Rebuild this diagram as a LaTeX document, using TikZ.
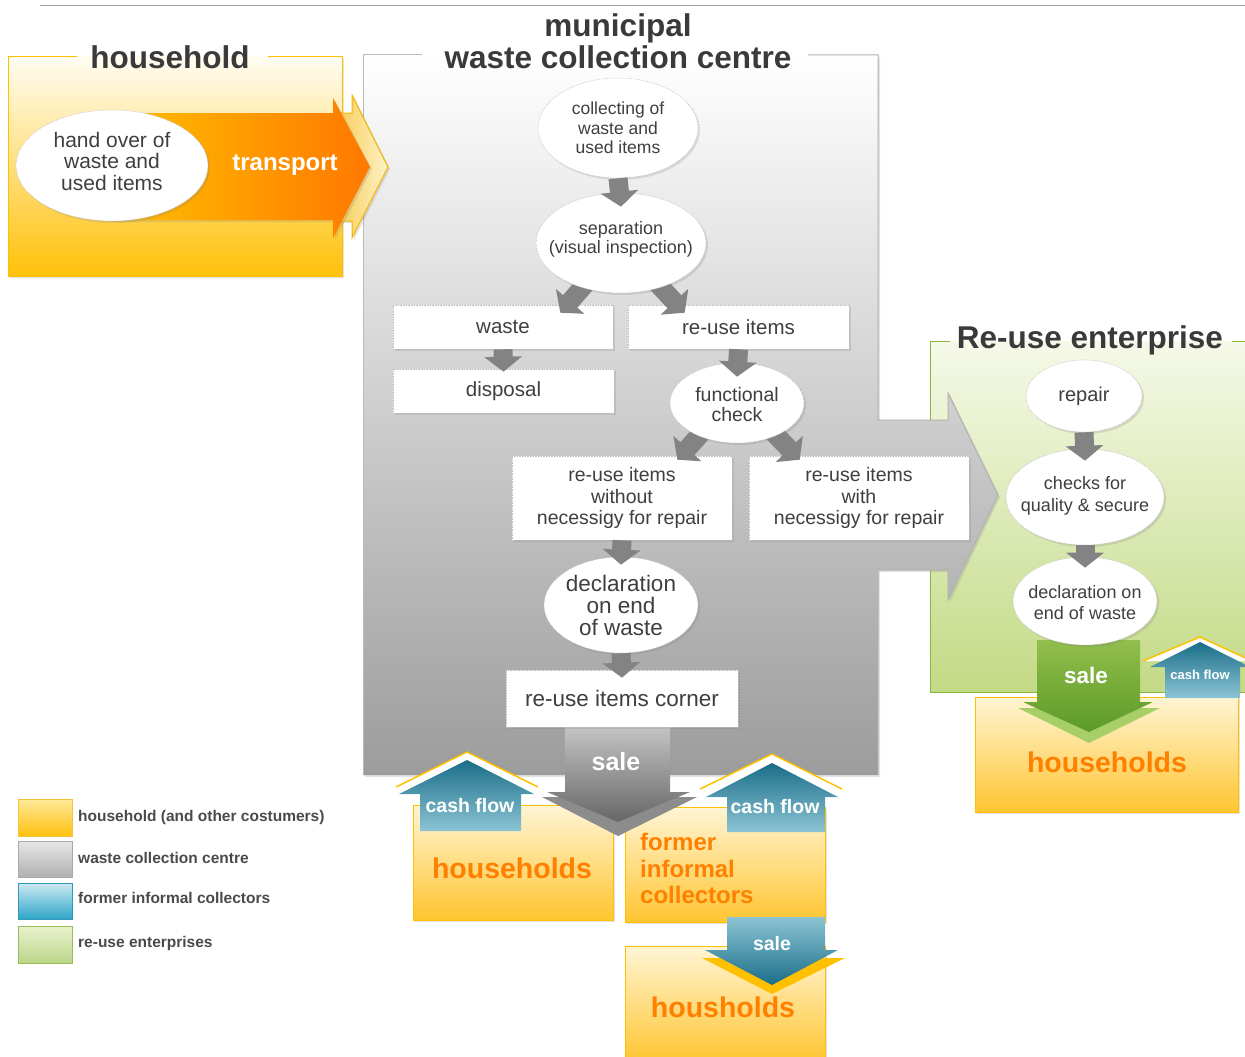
\documentclass[tikz,border=0pt]{standalone}
\usepackage{fontspec}
\setmainfont{Liberation Sans}
\usetikzlibrary{shapes.geometric,arrows.meta,shadows,calc}
\definecolor{ttl}{HTML}{3A3A3A}
\definecolor{txt}{HTML}{3F3F3F}
\definecolor{legtxt}{HTML}{4A4A4A}
\definecolor{yelB}{HTML}{FFC000}
\definecolor{yT}{HTML}{FFFDF2}
\definecolor{yM}{HTML}{FFE07A}
\definecolor{yD}{HTML}{FFC10A}
\definecolor{orgA}{HTML}{FF7800}
\definecolor{orgM}{HTML}{FFA800}
\definecolor{orgT}{HTML}{FF8000}
\definecolor{chevL}{HTML}{F6CF5C}
\definecolor{chevR}{HTML}{FFF2C8}
\definecolor{chevB}{HTML}{F2B600}
\definecolor{grT}{HTML}{F5F9E8}
\definecolor{grD}{HTML}{C3DA85}
\definecolor{grnB}{HTML}{8DB53C}
\definecolor{mcL}{HTML}{9C9C9C}
\definecolor{lyT}{HTML}{FFF5D5}
\definecolor{lyD}{HTML}{FFC530}
\definecolor{bluD}{HTML}{1A6E89}
\definecolor{bluL}{HTML}{8CC4D4}
\definecolor{saleT}{HTML}{C4C4C4}
\definecolor{saleD}{HTML}{666666}
\definecolor{saleB}{HTML}{8C8C8C}
\definecolor{gsT}{HTML}{92BE4C}
\definecolor{gsD}{HTML}{5C9A28}
\definecolor{gsB}{HTML}{A8CF67}
\definecolor{arrG}{HTML}{838383}
\definecolor{lgyT}{HTML}{FFE89A}
\definecolor{lgyD}{HTML}{FFC20E}
\definecolor{lgyB}{HTML}{F7C23A}
\definecolor{lggT}{HTML}{E6E6E6}
\definecolor{lggD}{HTML}{B0B0B0}
\definecolor{lggB}{HTML}{A8A8A8}
\definecolor{lgbT}{HTML}{CDEAF3}
\definecolor{lgbD}{HTML}{2DA5C8}
\definecolor{lgbB}{HTML}{3499B8}
\definecolor{lgnT}{HTML}{E9F2CF}
\definecolor{lgnD}{HTML}{BCD58A}
\definecolor{lgnB}{HTML}{98BE55}
\newcommand{\fsz}[2]{\fontsize{#1}{#2}\selectfont}
\pgfdeclarelayer{bg}
\pgfdeclarelayer{boxl}
\pgfdeclarelayer{midl}
\pgfdeclarelayer{topl}
\pgfsetlayers{bg,boxl,midl,main,topl}
\begin{document}
\begin{tikzpicture}[x=1pt,y=-1pt,
  shd/.style={drop shadow={shadow xshift=2pt,shadow yshift=-2pt,opacity=0.22}},
  ell/.style={ellipse,draw=gray!55,densely dotted,line width=0.6pt,fill=white,inner sep=0pt,shd},
  etext/.style={align=center,text=txt,inner sep=0pt},
  boxn/.style={rectangle,draw=gray!50,densely dotted,line width=0.6pt,fill=white,inner sep=0pt,align=center,text=txt,shd},
  garrow/.style={draw=arrG,line width=19pt,-{Triangle[length=15pt,width=37pt]}},
  ttlst/.style={text=ttl,font=\bfseries\fsz{31.5}{32},align=center,inner sep=0pt},
  wlab/.style={text=white,inner sep=0pt},
  olab/.style={text=orgT,font=\bfseries\fsz{28.5}{30},inner sep=0pt},
  legt/.style={text=legtxt,font=\bfseries\fsz{15.5}{17},anchor=west,inner sep=0pt},
  ybox/.style={top color=lyT,bottom color=lyD,draw=yelB,line width=1pt,shd},
  cashline/.style={draw=yelB,line width=1.5pt},
]
\useasboundingbox (0,0) rectangle (1245,1057);

\begin{pgfonlayer}{bg}
% top rule
\draw[gray!70,line width=1pt] (40,6) -- (1245,6);
% re-use enterprise region
\path[top color=grT,bottom color=grD] (930,341) rectangle (1250,692);
\draw[grnB,line width=1pt] (950,341) -- (930,341) -- (930,692) -- (1250,692);
\draw[grnB,line width=1pt] (1232,341) -- (1250,341);
% municipal region with big arrow
\path[top color=white,bottom color=mcL,shd] (363,55) -- (878,55) -- (878,420) -- (948,420) -- (948,393) -- (998,495) -- (948,600) -- (948,570) -- (878,570) -- (878,775) -- (363,775) -- cycle;
\draw[gray!55,line width=1pt] (422,55) -- (363,55) -- (363,775);
\draw[gray!60,line width=1pt] (808,55) -- (878,55) -- (878,420) -- (948,420) -- (948,393) -- (998,495) -- (948,600) -- (948,570) -- (878,570) -- (878,775);
% household region
\path[top color=yT,middle color=yM,bottom color=yD,shd] (8,57) rectangle (342,276);
\draw[yelB,line width=1pt] (77,57) -- (8,57) -- (8,276) -- (342,276) -- (342,57) -- (268,57);
% transport arrow with chevron behind
\path[left color=chevL,right color=chevR,draw=chevB,line width=1pt,shd] (340,113) -- (352,113) -- (352,95) -- (388,167) -- (352,238) -- (352,221) -- (340,221) -- cycle;
\path[left color=yelB,middle color=orgM,right color=orgA,shd] (112,113) -- (333,113) -- (333,98) -- (370,167) -- (333,238) -- (333,220) -- (112,220) -- cycle;
% lower customer boxes
\path[ybox] (413,805) rectangle (613,920);
\path[ybox] (625,807) rectangle (825,922);
\path[ybox] (625,946) rectangle (825,1062);
\path[ybox] (975,697) rectangle (1238,812);
% cash flow 1
\path[fill=white] (396,787) -- (467,752) -- (538,787) -- cycle;
\draw[cashline] (396,787) -- (467,752) -- (538,787);
\path[top color=bluD,bottom color=bluL] (420,831) -- (420,794) -- (399,794) -- (467,760) -- (534,794) -- (521,794) -- (521,831) -- cycle;
% cash flow 2
\path[fill=white] (700,789) -- (772,754) -- (842,789) -- cycle;
\draw[cashline] (700,789) -- (772,754) -- (842,789);
\path[top color=bluD,bottom color=bluL] (727,832) -- (727,797) -- (706,797) -- (772,763) -- (838,797) -- (825,797) -- (825,832) -- cycle;
% gray sale arrow
\fill[saleB] (542,797) -- (697,797) -- (618,836) -- cycle;
\path[top color=saleT,bottom color=saleD] (565,727) -- (670,727) -- (670,792) -- (690,792) -- (618,822) -- (547,792) -- (565,792) -- cycle;
% blue sale arrow
\fill[yelB] (702,958) -- (845,958) -- (772,994) -- cycle;
\path[top color=bluL,bottom color=bluD] (727,917) -- (825,917) -- (825,950) -- (838,950) -- (772,985) -- (705,950) -- (727,950) -- cycle;
% green sale arrow
\fill[gsB] (1018,708) -- (1160,708) -- (1089,743) -- cycle;
\path[top color=gsT,bottom color=gsD] (1037,640) -- (1140,640) -- (1140,702) -- (1153,702) -- (1089,732) -- (1023,702) -- (1037,702) -- cycle;
% small cash flow
\path[fill=white] (1143,661) -- (1200,637) -- (1252,661) -- cycle;
\draw[cashline] (1143,661) -- (1200,637) -- (1252,661);
\path[top color=bluD,bottom color=bluL] (1165,698) -- (1165,667) -- (1150,667) -- (1200,642) -- (1250,667) -- (1240,667) -- (1240,698) -- cycle;
% legend swatches
\path[top color=lgyT,bottom color=lgyD,draw=lgyB,line width=1pt] (18,799) rectangle (72,836);
\path[top color=lggT,bottom color=lggD,draw=lggB,line width=1pt] (18,841) rectangle (72,877);
\path[top color=lgbT,bottom color=lgbD,draw=lgbB,line width=1pt] (18,883) rectangle (72,919);
\path[top color=lgnT,bottom color=lgnD,draw=lgnB,line width=1pt] (18,926) rectangle (72,963);
\end{pgfonlayer}

% rectangular step boxes
\begin{pgfonlayer}{boxl}
\node[boxn,minimum width=220pt,minimum height=44pt,font=\fsz{20.5}{22}] (waste) at (503,327) {waste};
\node[boxn,minimum width=221pt,minimum height=44pt,font=\fsz{20.5}{22}] (reuse) at (738.5,327) {re-use items};
\node[boxn,minimum width=221pt,minimum height=44pt,font=\fsz{20.5}{22}] (disposal) at (503.5,391) {disposal};
\node[boxn,minimum width=220pt,minimum height=84pt,font=\fsz{19.5}{21.5}] (without) at (622,498) {re-use items\\without\\necessigy for repair};
\node[boxn,minimum width=220pt,minimum height=84pt,font=\fsz{19.5}{21.5}] (with) at (859,498) {re-use items\\with\\necessigy for repair};
\node[boxn,minimum width=232pt,minimum height=57pt,font=\fsz{22.5}{24}] (corner) at (622,698.5) {re-use items corner};
\end{pgfonlayer}

% ellipses
\node[ell,minimum width=192pt,minimum height=111pt] (hand) at (112,165.5) {};
\node[etext,font=\fsz{21}{21.5}] (handT) at (112,161) {hand over of\\waste and\\used items};
\node[ell,minimum width=160pt,minimum height=100pt] (coll) at (618,128) {};
\node[etext,font=\fsz{17.5}{19.5}] (collT) at (618,128) {collecting of\\waste and\\used items};
\node[ell,minimum width=170pt,minimum height=100pt] (sep) at (621,243) {};
\node[etext,font=\fsz{18}{19.5}] (sepT) at (621,239.5) {separation\\(visual inspection)};
\node[ell,minimum width=134pt,minimum height=80pt] (func) at (737,403) {};
\node[etext,font=\fsz{19.5}{20}] (funcT) at (737,405) {functional\\check};
\node[ell,minimum width=154pt,minimum height=96pt] (decl) at (621,605) {};
\node[etext,font=\fsz{22.5}{22}] (declT) at (621,605) {declaration\\on end\\of waste};
\node[ell,minimum width=116pt,minimum height=72pt] (repair) at (1084,396) {};
\node[etext,font=\fsz{20}{22}] (repairT) at (1084,396) {repair};
\node[ell,minimum width=158pt,minimum height=96pt] (checks) at (1085,497) {};
\node[etext,font=\fsz{18}{22}] (checksT) at (1085,495.5) {checks for\\quality \& secure};
\node[ell,minimum width=144pt,minimum height=88pt] (decl2) at (1085,601) {};
\node[etext,font=\fsz{18}{21}] (decl2T) at (1085,602.5) {declaration on\\end of waste};

% diagonal flow arrows (under their source ellipse)
\begin{pgfonlayer}{midl}
\draw[garrow] ($(sep.center)+(-33,38)$) -- ($(waste.north east)+(-53,8)$);
\draw[garrow] ($(sep.center)+(34,38)$) -- ($(reuse.north west)+(57,8)$);
\draw[garrow] ($(func.center)+(-31,25)$) -- ($(without.north east)+(-55,4)$);
\draw[garrow] ($(func.center)+(32,25)$) -- ($(with.north west)+(51,4)$);
\end{pgfonlayer}

% straight flow arrows (over their target)
\begin{pgfonlayer}{topl}
\draw[garrow] (coll.south) -- ([yshift=-14pt]sep.north);
\draw[garrow] (waste.south) -- ([yshift=-3pt]disposal.north);
\draw[garrow] (reuse.south) -- ([yshift=-14pt]func.north);
\draw[garrow] (without.south) -- ([yshift=-8pt]decl.north);
\draw[garrow] (decl.south) -- ([yshift=-8pt]corner.north);
\draw[garrow] (repair.south) -- ([yshift=-12pt]checks.north);
\draw[garrow] (checks.south) -- ([yshift=-11pt]decl2.north);
\end{pgfonlayer}

% titles
\node[ttlst] (tHH) at (170,57.5) {household};
\node[ttlst] (tMC) at (618,41) {municipal\\waste collection centre};
\node[ttlst] (tRE) at (1090,340) {Re-use enterprise};

% arrow labels
\node[wlab,font=\bfseries\fsz{24}{26}] (trL) at (285,165) {transport};
\node[wlab,font=\bfseries\fsz{25}{27}] (sale1) at (616,762) {sale};
\node[wlab,font=\bfseries\fsz{19.5}{21}] (cash1) at (470,806) {cash flow};
\node[wlab,font=\bfseries\fsz{19.5}{21}] (cash2) at (775,807) {cash flow};
\node[wlab,font=\bfseries\fsz{19.5}{21}] (sale2) at (772,944) {sale};
\node[wlab,font=\bfseries\fsz{22.5}{24}] (sale3) at (1086,675) {sale};
\node[wlab,font=\bfseries\fsz{13}{15}] (cash3) at (1200,675) {cash flow};

% customer labels
\node[olab] (hh1) at (512,868) {households};
\node[olab,font=\bfseries\fsz{24}{26.5},align=left,anchor=north west] (fic) at (640,833) {former\\informal\\collectors};
\node[olab] (hh2) at (723,1007) {housholds};
\node[olab] (hh3) at (1107,762) {households};

% legend
\node[legt] (lg1) at (78,817) {household (and other costumers)};
\node[legt] (lg2) at (78,858) {waste collection centre};
\node[legt] (lg3) at (78,898) {former informal collectors};
\node[legt] (lg4) at (78,943) {re-use enterprises};
\end{tikzpicture}
\end{document}
